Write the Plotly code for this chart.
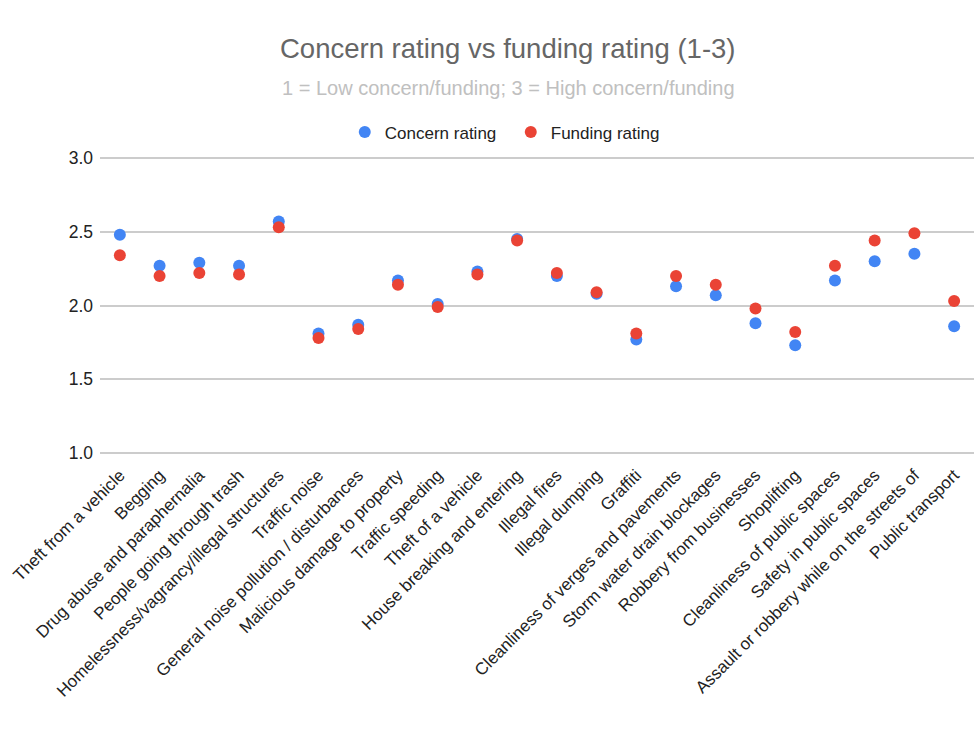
import plotly.graph_objects as go

categories = [
    "Theft from a vehicle", "Begging", "Drug abuse and paraphernalia",
    "People going through trash", "Homelessness/vagrancy/illegal structures",
    "Traffic noise", "General noise pollution / disturbances",
    "Malicious damage to property", "Traffic speeding", "Theft of a vehicle",
    "House breaking and entering", "Illegal fires", "Illegal dumping", "Graffiti",
    "Cleanliness of verges and pavements", "Storm water drain blockages",
    "Robbery from businesses", "Shoplifting", "Cleanliness of public spaces",
    "Safety in public spaces", "Assault or robbery while on the streets of",
    "Public transport",
]

concern = [2.48, 2.27, 2.29, 2.27, 2.57, 1.81, 1.87, 2.17, 2.01, 2.23,
           2.45, 2.20, 2.08, 1.77, 2.13, 2.07, 1.88, 1.73, 2.17, 2.30, 2.35, 1.86]
funding = [2.34, 2.20, 2.22, 2.21, 2.53, 1.78, 1.84, 2.14, 1.99, 2.21,
           2.44, 2.22, 2.09, 1.81, 2.20, 2.14, 1.98, 1.82, 2.27, 2.44, 2.49, 2.03]

y_ticks = [1.0, 1.5, 2.0, 2.5, 3.0]

FONT = "Liberation Sans, Arial, sans-serif"

fig = go.Figure()
fig.add_trace(go.Scatter(x=categories, y=concern, mode="markers", name="Concern rating",
                         marker=dict(color="#4285F4", size=12)))
fig.add_trace(go.Scatter(x=categories, y=funding, mode="markers", name="Funding rating",
                         marker=dict(color="#EA4335", size=12)))

fig.update_layout(
    template="none",
    width=977, height=740,
    paper_bgcolor="white", plot_bgcolor="white",
    margin=dict(l=100, r=3, t=155, b=284, autoexpand=False),
    font=dict(family=FONT, color="#222222"),
    showlegend=True,
    legend=dict(orientation="h", x=0.47, xanchor="center", y=1.015, yanchor="bottom",
                yref="paper", font=dict(size=17, color="#222222"),
                bgcolor="rgba(0,0,0,0)", itemwidth=30,
                entrywidth=121, entrywidthmode="pixels"),
    annotations=[
        dict(text="Concern rating vs funding rating (1-3)", xref="paper", yref="paper",
             x=0.467, y=1.0, yshift=107, xanchor="center", yanchor="middle",
             showarrow=False, font=dict(size=27.5, color="#666666", family=FONT)),
        dict(text="1 = Low concern/funding; 3 = High concern/funding", xref="paper", yref="paper",
             x=0.467, y=1.0, yshift=67, xanchor="center", yanchor="middle",
             showarrow=False, font=dict(size=20, color="#c0c0c0", family=FONT)),
    ],
)
fig.update_xaxes(type="category", range=[-0.5, len(categories) - 0.5], tickangle=-45,
                 tickfont=dict(size=17, color="#222222"), showgrid=False,
                 showline=False, ticks="", automargin=False, ticklabelstandoff=5)
fig.update_yaxes(range=[0.98, 3.02], tickvals=y_ticks, ticktext=[f"{v:.1f}" for v in y_ticks],
                 tickfont=dict(size=17.5, color="#222222"), gridcolor="#cccccc", gridwidth=1.5,
                 zeroline=False, showline=False, ticks="", automargin=False,
                 ticklabelstandoff=6)

fig.write_html("out.html", config={"displayModeBar": False},
               post_script="document.body.style.margin='0';document.body.style.overflow='hidden';")
